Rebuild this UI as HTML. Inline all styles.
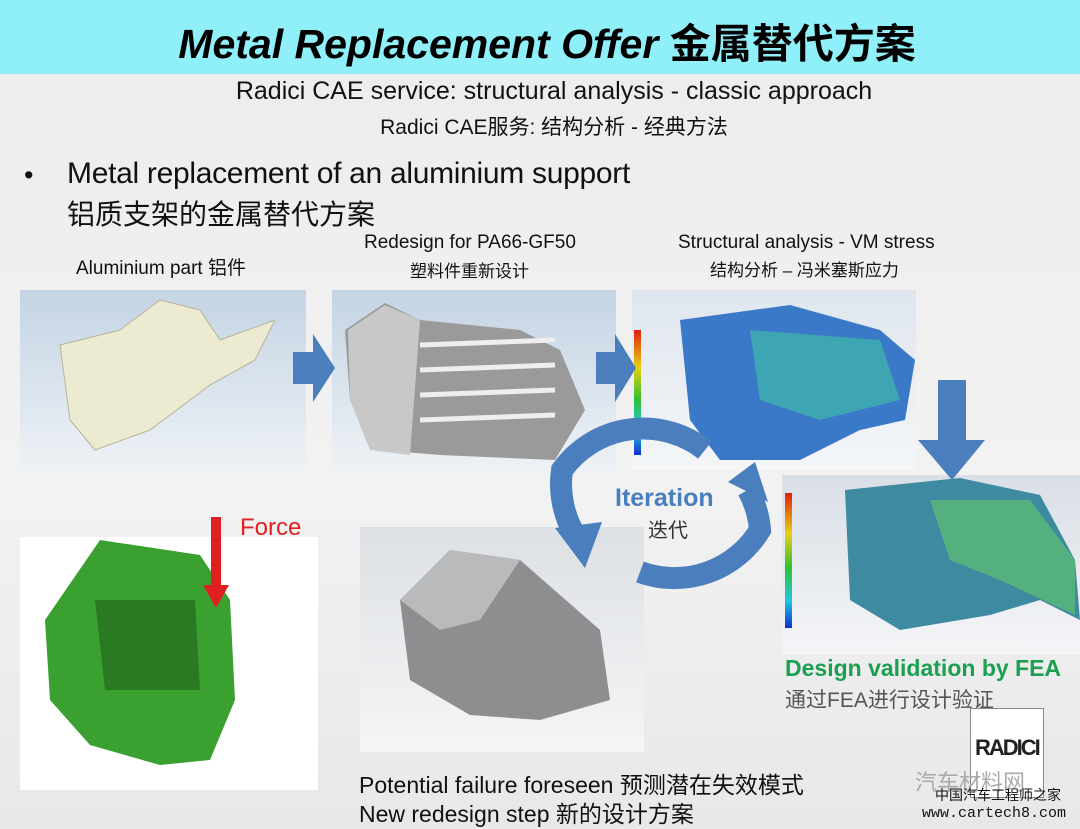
<!DOCTYPE html>
<html><head><meta charset="utf-8"><style>
body{margin:0;width:1080px;height:828px;overflow:hidden;background:linear-gradient(#ececec,#f2f2f2 60%,#e8e8e8);font-family:"Liberation Sans","Noto Sans CJK SC",sans-serif;position:relative}
.a{position:absolute;white-space:nowrap}
.t{font-family:"Liberation Sans","Noto Sans CJK SC",sans-serif;color:#111}
</style></head><body>
<div class="a" style="left:0;top:0;width:1080px;height:74px;background:#8ff0f9"></div>
<div class="a" style="left:0;top:10px;width:1094px;text-align:center;font:italic bold 41px 'Liberation Sans','Noto Sans CJK SC',sans-serif;color:#000">Metal Replacement Offer <span style="font-style:normal">金属替代方案</span></div>
<div class="a t" style="left:0;width:1108px;text-align:center;top:77px;font-size:25px">Radici CAE service: structural analysis - classic approach</div>
<div class="a t" style="left:0;width:1108px;text-align:center;top:111px;font-size:21px">Radici CAE服务: 结构分析 - 经典方法</div>
<div class="a t" style="left:24px;top:160px;font-size:27px">•</div>
<div class="a t" style="left:67px;top:157px;font-size:30px;letter-spacing:-0.3px">Metal replacement of an aluminium support</div>
<div class="a t" style="left:67px;top:193px;font-size:28px">铝质支架的金属替代方案</div>
<div class="a t" style="left:76px;top:253px;font-size:19px">Aluminium part 铝件</div>
<div class="a t" style="left:364px;top:232px;font-size:19px">Redesign for PA66-GF50</div>
<div class="a t" style="left:410px;top:257px;font-size:17px">塑料件重新设计</div>
<div class="a t" style="left:678px;top:232px;font-size:19px">Structural analysis - VM stress</div>
<div class="a t" style="left:710px;top:256px;font-size:17px">结构分析 – 冯米塞斯应力</div>

<div class="a" style="left:20px;top:290px;width:286px;height:182px;background:linear-gradient(#c4d4e4,#eef2f6)"></div>
<div class="a" style="left:332px;top:290px;width:284px;height:182px;background:linear-gradient(#c4d4e4,#eef2f6)"></div>
<div class="a" style="left:632px;top:290px;width:284px;height:180px;background:linear-gradient(#dfe6ee,#f4f6f8)"></div>
<div class="a" style="left:782px;top:475px;width:298px;height:180px;background:linear-gradient(#d9dfe6,#f4f5f7)"></div>
<div class="a" style="left:20px;top:537px;width:298px;height:253px;background:#fff"></div>
<div class="a" style="left:360px;top:527px;width:284px;height:225px;background:linear-gradient(#dde0e4,#f4f5f6)"></div>

<svg class="a" style="left:0;top:0" width="1080" height="828">
<defs><linearGradient id="cb" x1="0" y1="0" x2="0" y2="1"><stop offset="0" stop-color="#e02010"/><stop offset=".3" stop-color="#e8d010"/><stop offset=".55" stop-color="#30c030"/><stop offset=".8" stop-color="#20c8e0"/><stop offset="1" stop-color="#1030d0"/></linearGradient></defs>
<polygon points="60,345 120,330 160,300 200,310 220,340 275,320 255,360 210,385 150,430 95,450 70,420" fill="#ecead0" stroke="#b8b49a"/>
<polygon points="345,330 385,303 420,320 520,330 560,350 585,410 555,460 440,455 380,450 350,400" fill="#9a9a9a"/>
<polygon points="348,330 385,305 420,320 410,455 370,450 350,400" fill="#c8c8c8"/>
<g stroke="#eee" stroke-width="5"><line x1="420" y1="345" x2="555" y2="340"/><line x1="420" y1="370" x2="555" y2="365"/><line x1="420" y1="395" x2="555" y2="390"/><line x1="420" y1="420" x2="555" y2="415"/></g>
<polygon points="680,320 790,305 880,330 915,360 905,420 860,430 800,460 720,460 690,420" fill="#3a78c8"/>
<polygon points="750,330 880,340 900,400 820,420 760,400" fill="#40b8a8" opacity=".7"/>
<rect x="634" y="330" width="7" height="125" fill="url(#cb)"/>
<polygon points="845,490 960,478 1040,495 1075,560 1080,620 1040,600 990,615 900,630 850,600" fill="#3e8aa0"/>
<polygon points="930,500 1030,500 1075,560 1075,615 1000,580 950,560" fill="#60c070" opacity=".7"/>
<rect x="785" y="493" width="7" height="135" fill="url(#cb)"/>
<polygon points="45,620 100,540 200,555 230,600 235,700 210,760 160,765 90,745 50,700" fill="#3aa030"/>
<polygon points="95,600 195,600 200,690 105,690" fill="#2a7a24"/>
<polygon points="400,600 450,550 520,560 600,630 610,700 540,720 470,715 410,680" fill="#8c8e90"/>
<polygon points="400,600 450,550 520,560 480,620 440,630" fill="#b8babc"/>
<polygon points="293,352 313,352 313,334 335,368 313,402 313,384 293,384" fill="#4a7ebd"/>
<polygon points="596,352 615,352 615,334 636,368 615,402 615,384 596,384" fill="#4a7ebd"/>
<polygon points="938,380 966,380 966,440 985,440 952,480 918,440 938,440" fill="#4a7ebd"/>
<path d="M705,450 A100,100 0 0 0 562,470 A100,100 0 0 0 575,535" fill="none" stroke="#4a7ebd" stroke-width="22"/>
<polygon points="555,528 602,522 585,568" fill="#4a7ebd"/>
<path d="M640,572 A100,100 0 0 0 760,530 A100,100 0 0 0 748,490" fill="none" stroke="#4a7ebd" stroke-width="22"/>
<polygon points="728,482 755,462 768,502" fill="#4a7ebd"/>
<rect x="211" y="517" width="10" height="72" fill="#e02020"/>
<polygon points="203,585 229,585 216,608" fill="#e02020"/>
</svg>
<div class="a" style="left:615px;top:484px;font:bold 25px 'Liberation Sans',sans-serif;color:#4a7ebd">Iteration</div>
<div class="a t" style="left:648px;top:514px;font-size:20px;color:#333">迭代</div>
<div class="a" style="left:240px;top:514px;font-size:24px;color:#e02020">Force</div>
<div class="a" style="left:785px;top:655px;font:bold 23px 'Liberation Sans',sans-serif;color:#1aa050">Design validation by FEA</div>
<div class="a" style="left:785px;top:684px;font-size:21px;color:#555">通过FEA进行设计验证</div>
<div class="a" style="left:970px;top:708px;width:72px;height:88px;border:1px solid #888;background:#fff"></div>
<div class="a" style="left:975px;top:735px;font:bold 22px 'Liberation Sans',sans-serif;color:#222;letter-spacing:-2px">RADICI</div>
<div class="a t" style="left:359px;top:766px;font-size:23px">Potential failure foreseen 预测潜在失效模式</div>
<div class="a t" style="left:359px;top:795px;font-size:23px">New redesign step 新的设计方案</div>
<div class="a" style="left:915px;top:765px;font-size:22px;color:#aaa">汽车材料网</div>
<div class="a" style="left:935px;top:785px;font-size:14px;color:#111">中国汽车工程师之家</div>
<div class="a" style="left:922px;top:805px;font:15px 'Liberation Mono',monospace;color:#111">www.cartech8.com</div>
</body></html>
